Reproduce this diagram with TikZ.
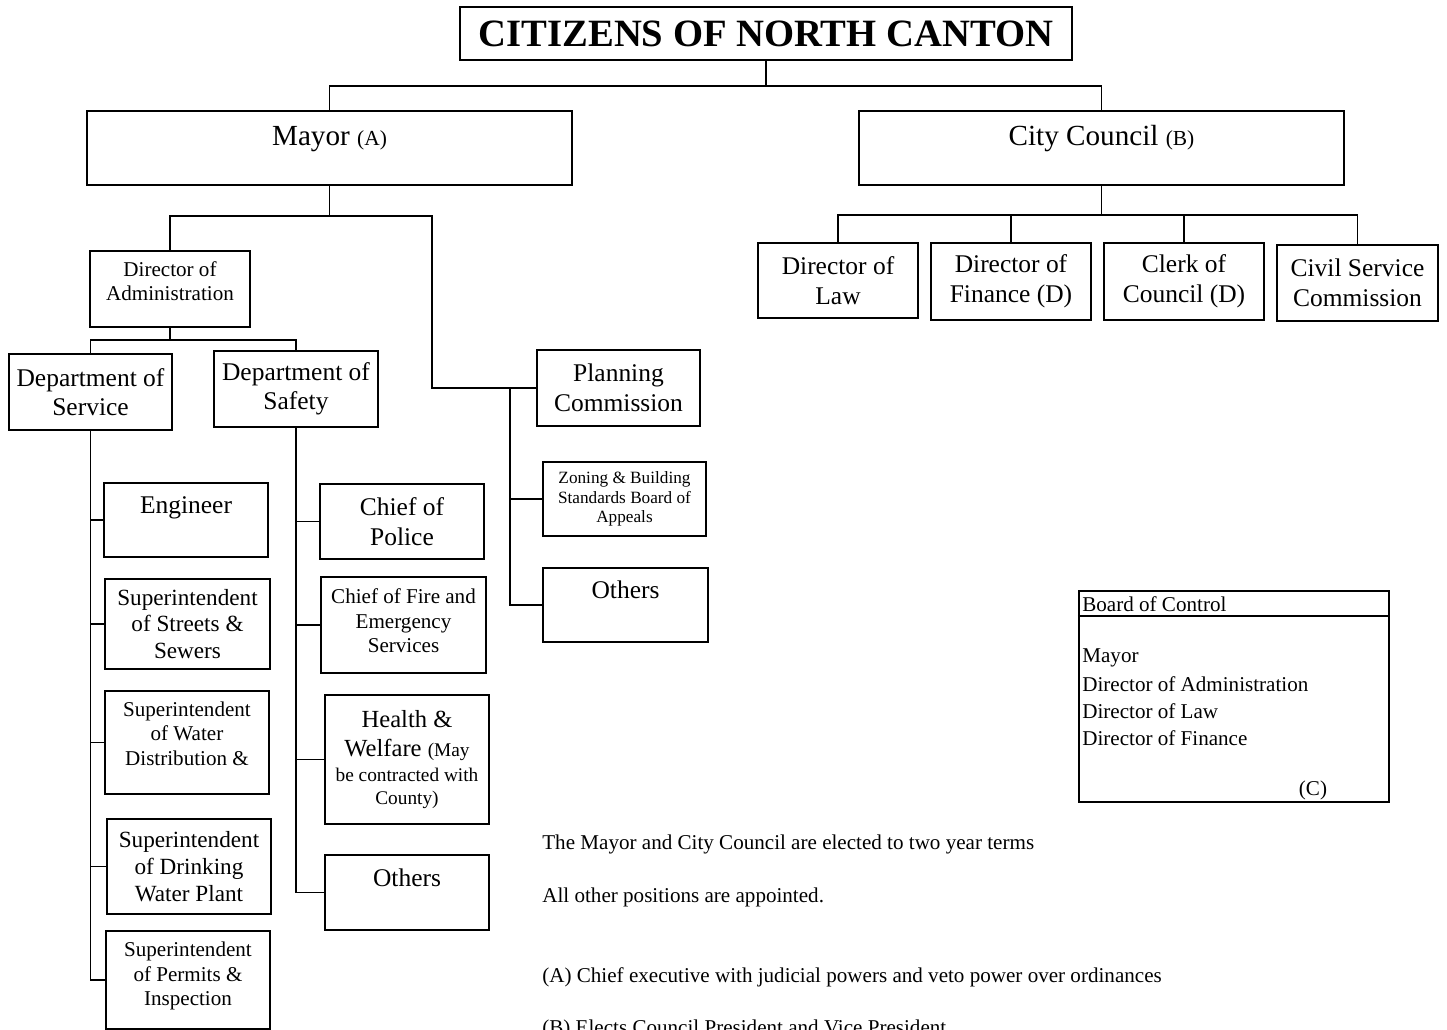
\documentclass[tikz,border=0pt]{standalone}
\usepackage{fontspec}
\setmainfont{Liberation Serif}
\usetikzlibrary{calc}
\newcommand{\healthbig}{\fontsize{14}{17}\selectfont}
\newcommand{\healthsmall}{\fontsize{11}{13}\selectfont}

\begin{document}
\begin{tikzpicture}[x=0.02cm, y=-0.02cm,
	box/.style={draw, line width=0.8pt, inner sep=0pt, align=center},
	sz/.style 2 args={minimum width=#1*\u, minimum height=#2*\u},
	big/.style={font=\fontsize{14.5}{16.8}\selectfont},
	mid/.style={font=\fontsize{13.2}{15.3}\selectfont},
	sml/.style={font=\fontsize{12}{14}\selectfont},
	lift/.style={text depth=#1},
	note/.style={anchor=west, inner sep=0pt, font=\fontsize{12}{14}\selectfont},
	line/.style={line width=0.8pt}]
	\def\u{0.02cm} % one pixel
	\useasboundingbox (0,0) rectangle (1447,1030);
	
	% citizens
	\node[box, sz={612}{53}, font=\fontsize{22}{26}\selectfont\bfseries] (citizens) at (766,33.5) {CITIZENS OF NORTH CANTON};
	
	% mayor and council
	\node[box, sz={485}{74}, lift=14pt, font=\fontsize{16.6}{19}\selectfont] (mayor) at (329.5,148) {Mayor {\fontsize{12.2}{14}\selectfont (A)}};
	\node[box, sz={485}{74}, lift=14pt, font=\fontsize{16.6}{19}\selectfont] (council) at (1101.5,148) {City Council {\fontsize{12.2}{14}\selectfont (B)}};
	
	% council row
	\node[box, big, sz={160}{75}] (law) at (838,280.5) {Director of\\Law};
	\node[box, big, sz={160}{77}] (finance) at (1011,281.5) {Director of\\Finance (D)};
	\node[box, big, sz={160}{77}] (clerk) at (1184,281.5) {Clerk of\\Council (D)};
	\node[box, big, sz={161}{76}] (civil) at (1357.5,283) {Civil Service\\Commission};
	
	% mayor side
	\node[box, sz={160}{76}, label={[sml, align=center, yshift=4.5pt]center:{Director of\\Administration}}] (admin) at (170,289) {};
	\node[box, big, sz={163}{76}] (service) at (90.5,392) {Department of\\Service};
	\node[box, big, sz={164}{76}] (safety) at (296,389) {Department of\\Safety};
	\node[box, big, sz={163}{76}] (planning) at (618.5,388) {Planning\\Commission};
	\node[box, sz={163}{74}, font=\fontsize{9.8}{11.3}\selectfont] (zoning) at (624.5,499) {Zoning \& Building\\Standards Board of\\Appeals};
	\node[box, big, sz={165}{74}, lift=17pt] (others1) at (625.5,605) {Others};
	
	% department of service
	\node[box, big, sz={164}{74}, lift=17pt] (engineer) at (186,520) {Engineer};
	\node[box, mid, sz={165}{90}] (streets) at (187.5,624) {Superintendent\\of Streets \&\\Sewers};
	\node[box, sz={164}{103}, label={[sml, align=center, yshift=5pt]center:{Superintendent\\of Water\\Distribution \&}}] (water) at (187,742.5) {};
	\node[box, mid, sz={164}{95}] (drinking) at (189,866.5) {Superintendent\\of Drinking\\Water Plant};
	\node[box, sz={164}{98}, label={[sml, align=center, yshift=2.3pt]center:{Superintendent\\of Permits \&\\Inspection}}] (permits) at (188,980) {};
	
	% department of safety
	\node[box, big, sz={164}{75}] (police) at (402,521.5) {Chief of\\Police};
	\node[box, sz={165}{96}, label={[sml, align=center, yshift=2.3pt]center:{Chief of Fire and\\Emergency\\Services}}] (fire) at (403.5,625) {};
	\node[box, sz={164}{129}, font=\healthsmall] (health) at (407,759.5) {\healthbig Health \&\\[4pt]\healthbig Welfare \healthsmall(May\\[1.2pt]be contracted with\\County)};
	\node[box, big, sz={164}{75}, lift=17pt] (others2) at (407,892.5) {Others};
	
	% board of control
	\node[draw, line width=1.2pt, sz={310}{211}] (board) at (1234,696.5) {};
	\draw[line width=1.2pt] ($(board.north west)+(0,26)$) -- ($(board.north east)+(0,26)$);
	\node[note] (bctitle) at (1082,604) {Board of Control};
	\foreach \t [count=\i] in {Mayor, Director of Administration, Director of Law, Director of Finance}
		\node[note] at (1082,631+26.7*\i) {\t};
	\node[note, anchor=center] (bcmark) at (1313,790) {(C)};
	
	% notes
	\node[note] (n1) at (542,844) {The Mayor and City Council are elected to two year terms};
	\node[note] (n2) at (542,897) {All other positions are appointed.};
	\node[note] (n3) at (542,977) {(A) Chief executive with judicial powers and veto power over ordinances};
	\node[note] (n4) at (542,1029) {(B) Elects Council President and Vice President};
	
	% citizens to mayor and council
	\coordinate (top) at (766,86);
	\draw[line] (citizens.south) -- (top);
	\draw[line] (mayor.north) |- (top) -| (council.north);
	
	% council to its row
	\coordinate (cbus) at (1101.5,215);
	\draw[line] (council.south) -- (cbus);
	\draw[line] (law.north) |- (cbus) -| (civil.north);
	\foreach \n in {finance,clerk}
		\draw[line] (\n.north) -- (\n.north |- cbus);
	
	% mayor to administration and planning
	\coordinate (mbus) at (329.5,216);
	\coordinate (mbend) at (432,216);
	\draw[line] (mayor.south) -- (mbus);
	\draw[line] (admin.north) |- (mbend) |- (planning.west);
	
	% planning column
	\coordinate (pcol) at (510,388);
	\draw[line] (pcol) |- (others1.west);
	\draw[line] (pcol |- zoning.west) -- (zoning.west);
	
	% administration to departments
	\coordinate (abus) at (170,340);
	\draw[line] (admin.south) -- (abus);
	\draw[line] (service.north) |- (abus) -| (safety.north);
	
	% service column
	\draw[line] (service.south) |- (permits.west);
	\foreach \n in {engineer,streets,water,drinking}
		\draw[line] (service.south |- \n.west) -- (\n.west);
	
	% safety column
	\draw[line] (safety.south) |- (others2.west);
	\foreach \n in {police,fire,health}
		\draw[line] (safety.south |- \n.west) -- (\n.west);
\end{tikzpicture}
\end{document}
